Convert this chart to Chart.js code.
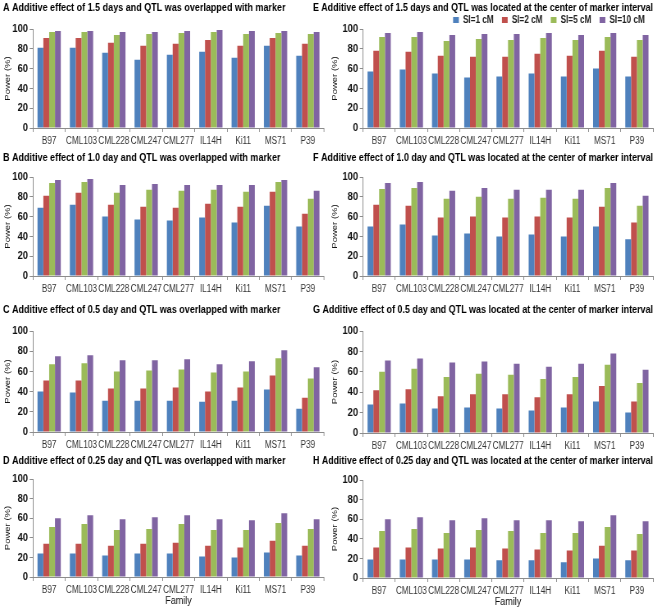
<!DOCTYPE html>
<html>
<head>
<meta charset="utf-8">
<script src="https://cdn.jsdelivr.net/npm/chart.js@4.4.1/dist/chart.umd.min.js"></script>
<style>
  html, body { margin: 0; padding: 0; background: #fff; width: 662px; height: 609px; overflow: hidden; }
  canvas { position: absolute; }
</style>
</head>
<body>
<script>
const families = ['B97', 'CML103', 'CML228', 'CML247', 'CML277', 'IL14H', 'Ki11', 'MS71', 'P39']
const siLabels = ['SI=1 cM', 'SI=2 cM', 'SI=5 cM', 'SI=10 cM']
const yTicks = [0, 20, 40, 60, 80, 100]

// A: 1.5 days, overlapped with marker
const aSI1 = [81, 81, 76, 69, 74, 77, 71, 83, 73]
const aSI2 = [91, 91, 86, 83, 85, 89, 83, 91, 85]
const aSI5 = [97, 97, 94, 95, 96, 97, 95, 96, 95]
const aSI10 = [98, 98, 97, 97, 98, 99, 98, 98, 97]
// B: 1.0 day, overlapped
const bSI1 = [69, 72, 60, 57, 56, 59, 54, 71, 50]
const bSI2 = [81, 84, 72, 70, 69, 73, 70, 85, 63]
const bSI5 = [94, 95, 84, 87, 86, 87, 85, 95, 78]
const bSI10 = [97, 98, 92, 93, 92, 92, 92, 97, 86]
// C: 0.5 day, overlapped
const cSI1 = [40, 39, 31, 31, 31, 30, 31, 42, 23]
const cSI2 = [51, 51, 43, 43, 44, 40, 44, 56, 34]
const cSI5 = [67, 68, 60, 61, 62, 59, 60, 73, 53]
const cSI10 = [75, 76, 71, 71, 72, 67, 70, 81, 64]
// D: 0.25 day, overlapped
const dSI1 = [24, 24, 22, 24, 24, 21, 20, 25, 22]
const dSI2 = [34, 34, 32, 34, 35, 32, 30, 37, 32]
const dSI5 = [51, 54, 48, 49, 54, 48, 48, 55, 49]
const dSI10 = [60, 63, 59, 61, 63, 59, 58, 65, 59]
// E: 1.5 days, centre of interval
const eSI1 = [57, 59, 55, 51, 52, 55, 52, 60, 52]
const eSI2 = [78, 77, 73, 72, 72, 75, 73, 78, 72]
const eSI5 = [92, 92, 88, 90, 89, 91, 89, 92, 89]
const eSI10 = [96, 97, 94, 95, 95, 96, 94, 96, 94]
// F: 1.0 day, centre
const fSI1 = [50, 52, 41, 43, 40, 42, 40, 50, 37]
const fSI2 = [72, 71, 59, 60, 59, 60, 59, 70, 54]
const fSI5 = [88, 89, 78, 80, 78, 79, 78, 89, 71]
const fSI10 = [94, 95, 86, 89, 87, 87, 87, 94, 81]
// G: 0.5 day, centre
const gSI1 = [28, 29, 24, 25, 24, 22, 25, 31, 20]
const gSI2 = [42, 43, 36, 38, 38, 35, 38, 46, 31]
const gSI5 = [60, 63, 55, 58, 57, 53, 55, 67, 49]
const gSI10 = [71, 73, 69, 70, 68, 65, 68, 78, 62]
// H: 0.25 day, centre
const hSI1 = [19, 19, 19, 19, 18, 18, 16, 20, 18]
const hSI2 = [31, 31, 30, 31, 30, 29, 28, 33, 28]
const hSI5 = [48, 50, 46, 49, 48, 46, 46, 52, 45]
const hSI10 = [60, 62, 59, 61, 59, 59, 58, 64, 58]

const colors = ['#4F81BD', '#C0504D', '#9BBB59', '#8064A2']
const sans = "'Liberation Sans', Arial, sans-serif"
const axisGray = '#8c8c8c'

// the original figure is squeezed sideways, so each canvas is drawn wider and shown narrower
const squeeze = 0.82

const cols = [
    { left: 0, cssWidth: 331, titleX: 3, yTitleX: 7.5, plotLeft: 33, plotRight: 324 },
    { left: 310, cssWidth: 352, titleX: 313, yTitleX: 335, plotLeft: 363, plotRight: 653 },
]

const panels = [
    { col: 0, top: 0, titleY: 8, plotTop: 29, plotBottom: 128, series: [aSI1, aSI2, aSI5, aSI10],
      title: 'A Additive effect of 1.5 days and QTL was overlapped with marker' },
    { col: 0, top: 148, titleY: 158, plotTop: 177, plotBottom: 276, series: [bSI1, bSI2, bSI5, bSI10],
      title: 'B Additive effect of 1.0 day and QTL was overlapped with marker' },
    { col: 0, top: 298, titleY: 310, plotTop: 331, plotBottom: 432, series: [cSI1, cSI2, cSI5, cSI10],
      title: 'C Additive effect of 0.5 day and QTL was overlapped with marker' },
    { col: 0, top: 452, titleY: 461, plotTop: 479, plotBottom: 577, series: [dSI1, dSI2, dSI5, dSI10], xTitle: true,
      title: 'D Additive effect of 0.25 day and QTL was overlapped with marker' },
    { col: 1, top: 0, titleY: 8, plotTop: 29, plotBottom: 128, series: [eSI1, eSI2, eSI5, eSI10], legend: true,
      title: 'E Additive effect of 1.5 days and QTL was located at the center of marker interval' },
    { col: 1, top: 148, titleY: 158, plotTop: 177, plotBottom: 276, series: [fSI1, fSI2, fSI5, fSI10],
      title: 'F Additive effect of 1.0 day and QTL was located at the center of marker interval' },
    { col: 1, top: 298, titleY: 310, plotTop: 331, plotBottom: 433, series: [gSI1, gSI2, gSI5, gSI10],
      title: 'G Additive effect of 0.5 day and QTL was located at the center of marker interval' },
    { col: 1, top: 452, titleY: 461, plotTop: 480, plotBottom: 578, series: [hSI1, hSI2, hSI5, hSI10], xTitle: true,
      title: 'H Additive effect of 0.25 day and QTL was located at the center of marker interval' },
]

const titleSize = 11
const titleLine = titleSize * 1.2
const yTitleSize = 9.5
const legendY = 20
const legendPad = 10
const legendFont = 10

function makePanel(p) {
    const col = cols[p.col]
    const k = 1 / squeeze
    const innerWidth = Math.round(col.cssWidth * k)
    const xHeight = p.xTitle ? 31 : 20
    const height = p.plotBottom - p.top + xHeight + 2

    const canvas = document.createElement('canvas')
    canvas.width = innerWidth
    canvas.height = height
    canvas.style.left = col.left + 'px'
    canvas.style.top = p.top + 'px'
    canvas.style.width = col.cssWidth + 'px'
    canvas.style.height = height + 'px'
    document.body.appendChild(canvas)

    const titleTop = p.titleY - p.top - titleLine / 2
    let titleBottom, legendMax = 0
    if (p.legend) {
        const boxH = legendY - p.top - legendPad - legendFont / 2
        titleBottom = boxH - titleLine - titleTop
        legendMax = (p.plotTop - p.top) - boxH
    } else {
        titleBottom = (p.plotTop - p.top) - titleLine - titleTop
    }

    const datasets = p.series.map((vals, i) => ({
        label: siLabels[i],
        data: vals,
        backgroundColor: colors[i],
        borderWidth: 0,
        barPercentage: 1.0,
        categoryPercentage: 0.72,
    }))

    const yWidth = (col.plotLeft - col.titleX) * k

    new Chart(canvas, {
        type: 'bar',
        data: { labels: families, datasets: datasets },
        options: {
            responsive: false,
            animation: false,
            devicePixelRatio: 1,
            layout: {
                padding: {
                    left: (col.titleX - col.left) * k,
                    right: (col.left + col.cssWidth - col.plotRight) * k,
                    top: 0,
                    bottom: height - (p.plotBottom - p.top) - xHeight,
                },
            },
            plugins: {
                title: {
                    display: true,
                    text: p.title,
                    align: 'start',
                    color: '#000',
                    font: { family: sans, size: titleSize, weight: 'bold' },
                    padding: { top: titleTop, bottom: titleBottom },
                },
                legend: {
                    display: !!p.legend,
                    position: 'top',
                    align: 'end',
                    maxHeight: legendMax || undefined,
                    labels: {
                        boxWidth: 7,
                        boxHeight: 6,
                        padding: legendPad,
                        color: '#222',
                        font: { family: sans, size: legendFont, weight: 'bold' },
                    },
                },
                tooltip: { enabled: false },
            },
            scales: {
                x: {
                    grid: { display: true, drawOnChartArea: false, tickLength: 4, color: axisGray },
                    border: { color: axisGray },
                    ticks: {
                        autoSkip: false, maxRotation: 0, padding: 3, color: '#333',
                        font: { family: sans, size: 10 },
                    },
                    title: {
                        display: !!p.xTitle,
                        text: 'Family',
                        color: '#111',
                        font: { family: sans, size: 11 },
                        padding: { top: 0, bottom: 0 },
                    },
                    afterFit: (s) => { s.height = xHeight },
                },
                y: {
                    min: 0,
                    max: 100,
                    afterBuildTicks: (s) => { s.ticks = yTicks.map(v => ({ value: v })) },
                    grid: { display: true, drawOnChartArea: false, tickLength: 4, color: axisGray },
                    border: { color: axisGray },
                    ticks: { padding: 2, color: '#111', font: { family: sans, size: 11.5, weight: 'bold' } },
                    title: {
                        display: true,
                        text: 'Power (%)',
                        color: '#111',
                        font: { family: sans, size: yTitleSize },
                        padding: { top: (col.yTitleX - col.titleX) * k - yTitleSize * 0.6, bottom: 0 },
                    },
                    afterFit: (s) => { s.width = yWidth },
                },
            },
        },
    })
}

panels.forEach(makePanel)
</script>
</body>
</html>
